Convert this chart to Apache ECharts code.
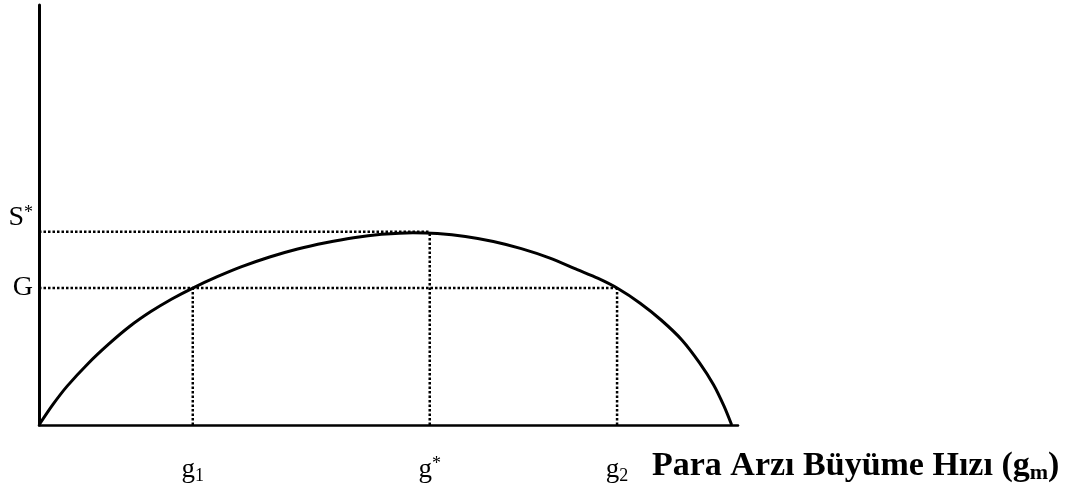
<!DOCTYPE html>
<html>
<head>
<meta charset="utf-8">
<script src="https://cdn.jsdelivr.net/npm/echarts@6/dist/echarts.min.js"></script>
<style>
  html, body { margin: 0; padding: 0; background: #fff; }
  #chart { width: 1088px; height: 497px; }
</style>
</head>
<body>
<div id="chart"></div>
<script>
// seigniorage curve, both axes on a 0-100 scale
const curveX = [0, 2, 4, 7, 10, 13, 16, 19, 22, 25.5, 29, 33, 37, 41, 45, 49, 53.5, 57, 61, 65, 69, 73, 77, 80, 82.7, 86, 89, 92, 94.5, 96.5, 98, 99.1]
const curveY = [0, 4.9, 9.2, 14.6, 19.3, 23.5, 27.0, 30.0, 32.6, 35.3, 37.7, 40.0, 41.9, 43.4, 44.6, 45.4, 45.8, 45.6, 44.9, 43.7, 42.0, 39.8, 37.0, 34.9, 32.6, 29.0, 25.0, 20.2, 14.8, 9.6, 4.5, 0]

// g1, g*, g2 on the x axis; G, S* on the y axis
const xTicks = [22.0, 55.9, 82.7]
const xTickLabels = ['{g|g}{sub|1}', '{g|g}{sup|*}', '{g|g}{sub|2}']
const yTicks = [32.6, 46.0]
const yTickLabels = ['{t|G}', '{s|S}{ssup|*}']

const gLevel = yTicks[0]
const sLevel = yTicks[1]
const [g1, gStar, g2] = xTicks

// dotted guide lines (from the tick values above)
const guides = [
  [[0, gLevel], [g2, gLevel]],
  [[g1, 0], [g1, gLevel]],
  [[g2, 0], [g2, gLevel]],
  [[0, sLevel], [gStar, sLevel]],
  [[gStar, 0], [gStar, sLevel]]
]

const serif = '"Liberation Serif", "Times New Roman", serif'
const chart = echarts.init(document.getElementById('chart'))

const guideSeries = guides.map((pts) => ({
  type: 'line',
  data: pts,
  symbol: 'none',
  silent: true,
  lineStyle: { color: '#000', width: 2.5, type: [2.5, 2] },
  z: 1
}))

chart.setOption({
  animation: false,
  grid: { left: 39, right: 350, top: 5, bottom: 72 },
  xAxis: {
    type: 'value',
    min: 0,
    max: 100,
    axisLine: { show: true, onZero: false, lineStyle: { color: '#000', width: 2.5 } },
    axisTick: { show: false },
    splitLine: { show: false },
    axisLabel: {
      customValues: xTicks,
      margin: 30,
      formatter: (v) => xTickLabels[xTicks.indexOf(v)],
      rich: {
        g: { fontFamily: serif, fontSize: 27, color: '#000', lineHeight: 30 },
        sub: { fontFamily: serif, fontSize: 18, color: '#000', verticalAlign: 'bottom', lineHeight: 24 },
        sup: { fontFamily: serif, fontSize: 18, color: '#000', verticalAlign: 'top', lineHeight: 10 }
      }
    },
    name: '{b|Para Arzı Büyüme Hızı (g}{bsub|m}{b|)}',
    nameLocation: 'end',
    nameGap: -86,
    nameTextStyle: {
      align: 'left',
      verticalAlign: 'top',
      padding: [23, 0, 0, 0],
      rich: {
        b: { fontFamily: serif, fontSize: 34, fontWeight: 'bold', color: '#000', lineHeight: 36 },
        bsub: { fontFamily: serif, fontSize: 22, fontWeight: 'bold', color: '#000', verticalAlign: 'bottom', lineHeight: 30 }
      }
    }
  },
  yAxis: {
    type: 'value',
    min: 0,
    max: 100,
    axisLine: { show: true, onZero: false, lineStyle: { color: '#000', width: 3 } },
    axisTick: { show: false },
    splitLine: { show: false },
    axisLabel: {
      customValues: yTicks,
      margin: 6,
      formatter: (v) => yTickLabels[yTicks.indexOf(v)],
      rich: {
        t: { fontFamily: serif, fontSize: 28, color: '#000' },
        s: { fontFamily: serif, fontSize: 28, color: '#000', padding: [0, 0, 28, 0] },
        ssup: { fontFamily: serif, fontSize: 18, color: '#000', verticalAlign: 'top', lineHeight: 14 }
      }
    }
  },
  series: [
    ...guideSeries,
    {
      type: 'line',
      data: curveX.map((x, i) => [x, curveY[i]]),
      smooth: 0.3,
      symbol: 'none',
      lineStyle: { color: '#000', width: 3 },
      z: 3
    }
  ]
})
</script>
</body>
</html>
